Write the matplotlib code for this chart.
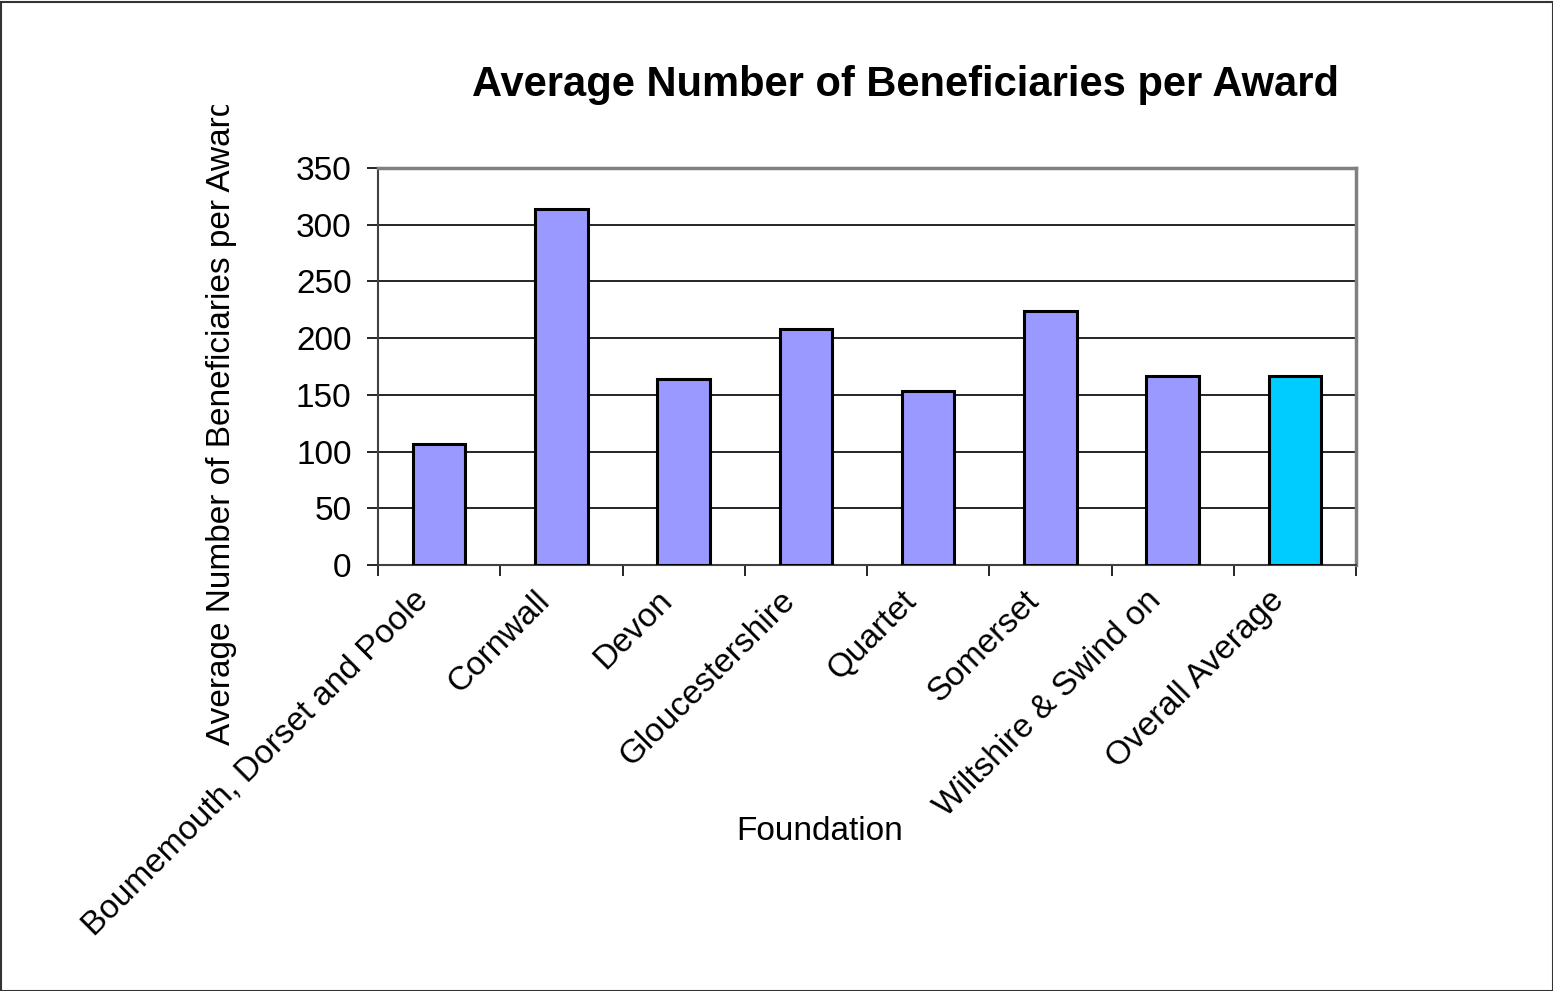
import matplotlib
matplotlib.use("Agg")
import matplotlib.pyplot as plt
from matplotlib.patches import Rectangle
from matplotlib.transforms import Bbox

categories = ["Boumemouth, Dorset and Poole", "Cornwall", "Devon", "Gloucestershire",
              "Quartet", "Somerset", "Wiltshire & Swind on", "Overall Average"]
values = [107, 314, 164, 208, 153, 224, 167, 167]
colors = ["#9999FF"] * 7 + ["#00CCFF"]
yticks = [0, 50, 100, 150, 200, 250, 300, 350]

plt.rcParams['font.family'] = ['Liberation Sans', 'DejaVu Sans']

W, H = 1553, 991
fig = plt.figure(figsize=(W / 100, H / 100), dpi=100)
ax = fig.add_axes([378 / W, 1 - 565 / H, (1356 - 378) / W, (565 - 168) / H])

x = range(len(categories))
ax.bar(x, values, width=0.43, color=colors, edgecolor="black", linewidth=2.2, zorder=3)
ax.set_xlim(-0.5, len(categories) - 0.5)
ax.set_ylim(0, 350)
ax.set_yticks(yticks)
ax.set_yticklabels([str(t) for t in yticks], fontsize=24)
ax.yaxis.grid(True, color="black", linewidth=1.2, zorder=0)
ax.set_axisbelow(True)

ax.set_xticks([i + 0.5 for i in range(-1, len(categories))], minor=False)
ax.set_xticklabels([])
ax.tick_params(axis="x", direction="out", length=8, width=1.2, colors="black")
ax.tick_params(axis="y", direction="out", length=8, width=1.2, pad=11)

for i, c in enumerate(categories):
    ax.text(i - 0.22, -0.05, c, transform=ax.get_xaxis_transform(), rotation=45,
            ha="right", va="top", rotation_mode="anchor", fontsize=24)

for s in ["top", "right"]:
    ax.spines[s].set_color("#808080")
    ax.spines[s].set_linewidth(2.5)
ax.spines["left"].set_color("#404040")
ax.spines["left"].set_linewidth(1.5)
ax.spines["bottom"].set_color("#404040")
ax.spines["bottom"].set_linewidth(1.5)

fig.text(905 / W, 1 - 85 / H, "Average Number of Beneficiaries per Award",
         ha="center", va="center", fontsize=30, fontweight="bold")
fig.text(820 / W, 1 - 832 / H, "Foundation", ha="center", va="center", fontsize=24)

yl = fig.text(222 / W, 1 - 745 / H, "Average Number of Beneficiaries per Award",
              ha="center", va="bottom", rotation=90, fontsize=24)
yl.set_clip_box(Bbox.from_extents(0, 0, W, H - 105))
yl.set_clip_on(True)

fig.patches.append(Rectangle((0.5 / W, 0), 1 - 1 / W, 1 - 1.5 / H, transform=fig.transFigure,
                             fill=False, edgecolor="#333333", linewidth=1.5))

fig.savefig("out.png", dpi=100)
